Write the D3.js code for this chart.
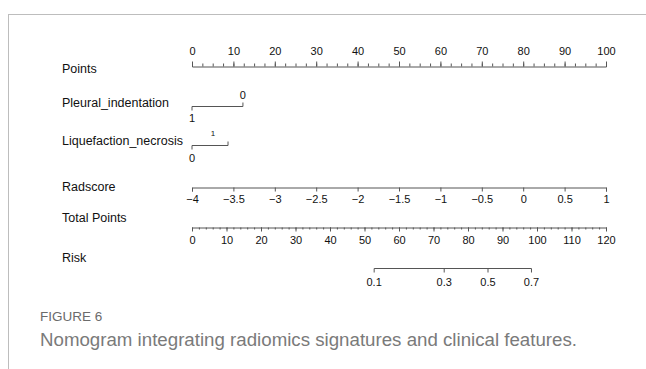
<!DOCTYPE html>
<html>
<head>
<meta charset="utf-8">
<script src="https://cdn.jsdelivr.net/npm/d3@7"></script>
<style>
  body { margin: 0; background: #fff; }
  svg text { font-family: "Liberation Sans", Arial, sans-serif; }
</style>
</head>
<body>
<div id="chart"></div>
<script>
// Nomogram data
const rowLabels = ['Points', 'Pleural_indentation', 'Liquefaction_necrosis', 'Radscore', 'Total Points', 'Risk'];

const pointsTicks = [0, 10, 20, 30, 40, 50, 60, 70, 80, 90, 100];

const pleuralLevels = ['1', '0'];
const pleuralPoints = [0, 12.3];

const liquefactionLevels = ['0', '1'];
const liquefactionPoints = [0, 8.7];

const radscoreTicks = [-4, -3.5, -3, -2.5, -2, -1.5, -1, -0.5, 0, 0.5, 1];

const totalTicks = [0, 10, 20, 30, 40, 50, 60, 70, 80, 90, 100, 110, 120];

const riskTicks = [0.1, 0.3, 0.5, 0.7];
const riskTotalPoints = [52.8, 73.1, 85.8, 98.4];

const W = 646, H = 369;
const svg = d3.select('#chart').append('svg')
  .attr('width', W).attr('height', H);

// frame lines
svg.append('line').attr('x1', 8).attr('x2', W).attr('y1', 14.5).attr('y2', 14.5)
  .attr('stroke', '#bdbdbd').attr('stroke-width', 1);
svg.append('line').attr('x1', 8.5).attr('x2', 8.5).attr('y1', 14).attr('y2', H)
  .attr('stroke', '#bdbdbd').attr('stroke-width', 1);

const x0 = 192, x1 = 606;
const xPts = d3.scaleLinear().domain([0, 100]).range([x0, x1]);
const xRad = d3.scaleLinear().domain([-4, 1]).range([x0, x1]);
const xTot = d3.scaleLinear().domain([0, 120]).range([x0, x1]);

const axisColor = '#555';
const textColor = '#111';
const fmt = d => String(d).replace('-', '\u2212');

// row labels
const labelY = [68, 102, 140, 186, 217, 257];
svg.selectAll('.rowlab').data(rowLabels).enter().append('text')
  .attr('class', 'rowlab')
  .attr('x', 62).attr('y', (d, i) => labelY[i] + 5)
  .attr('font-size', 12.5).attr('fill', textColor)
  .text(d => d);

function styleAxis(g) {
  g.select('.domain').attr('stroke', axisColor);
  g.selectAll('.tick line').attr('stroke', axisColor);
  g.selectAll('.tick text').attr('fill', textColor).attr('font-size', 11)
    .attr('font-family', '"Liberation Sans", Arial, sans-serif');
}

// Points axis (labels above)
const gP = svg.append('g').attr('transform', 'translate(0,66.5)');
gP.call(d3.axisTop(xPts).tickValues(d3.range(0, 100.01, 2.5)).tickSize(3).tickFormat(''));
gP.append('g').call(d3.axisTop(xPts).tickValues(pointsTicks).tickSize(5).tickPadding(7));
gP.selectAll('.domain').filter((d, i) => i > 0).remove();
styleAxis(gP);

// Pleural_indentation
const yPl = 106.5;
svg.append('line').attr('x1', xPts(d3.min(pleuralPoints))).attr('x2', xPts(d3.max(pleuralPoints)))
  .attr('y1', yPl).attr('y2', yPl).attr('stroke', axisColor);
pleuralLevels.forEach((lv, i) => {
  const px = xPts(pleuralPoints[i]);
  const up = pleuralPoints[i] > 0;
  svg.append('line').attr('x1', px).attr('x2', px).attr('y1', yPl).attr('y2', up ? yPl - 4 : yPl + 4)
    .attr('stroke', axisColor);
  svg.append('text').attr('x', px).attr('y', up ? yPl - 8 : yPl + 15)
    .attr('text-anchor', 'middle').attr('font-size', 11).attr('fill', textColor).text(lv);
});

// Liquefaction_necrosis
const yLq = 145.5;
svg.append('line').attr('x1', xPts(d3.min(liquefactionPoints))).attr('x2', xPts(d3.max(liquefactionPoints)))
  .attr('y1', yLq).attr('y2', yLq).attr('stroke', axisColor);
liquefactionLevels.forEach((lv, i) => {
  const px = xPts(liquefactionPoints[i]);
  const up = liquefactionPoints[i] > 0;
  svg.append('line').attr('x1', px).attr('x2', px).attr('y1', yLq).attr('y2', up ? yLq - 4 : yLq + 4)
    .attr('stroke', axisColor);
  svg.append('text').attr('x', up ? px - 15 : px).attr('y', up ? yLq - 10 : yLq + 16)
    .attr('text-anchor', 'middle').attr('font-size', up ? 8 : 11).attr('fill', textColor).text(lv);
});

// Radscore
const gR = svg.append('g').attr('transform', 'translate(0,187.5)');
gR.call(d3.axisBottom(xRad).tickValues(radscoreTicks).tickSize(4).tickPadding(4).tickFormat(fmt));
styleAxis(gR);

// Total Points
const gT = svg.append('g').attr('transform', 'translate(0,227.5)');
gT.call(d3.axisBottom(xTot).tickValues(d3.range(0, 120.01, 2)).tickSize(2).tickFormat(''));
gT.append('g').call(d3.axisBottom(xTot).tickValues(totalTicks).tickSize(4).tickPadding(5));
gT.selectAll('.domain').filter((d, i) => i > 0).remove();
styleAxis(gT);

// Risk
const gK = svg.append('g').attr('transform', 'translate(0,268.5)');
const riskPos = riskTotalPoints.map(p => xTot(p));
gK.append('line').attr('x1', d3.min(riskPos)).attr('x2', d3.max(riskPos))
  .attr('stroke', axisColor);
riskTicks.forEach((r, i) => {
  gK.append('line').attr('x1', riskPos[i]).attr('x2', riskPos[i]).attr('y1', 0).attr('y2', 4)
    .attr('stroke', axisColor);
  gK.append('text').attr('x', riskPos[i]).attr('y', 17).attr('text-anchor', 'middle')
    .attr('font-size', 11).attr('fill', textColor).text(r);
});

// caption
svg.append('text').attr('x', 40).attr('y', 321)
  .attr('font-family', '"Open Sans", sans-serif').attr('font-size', 13.5).attr('fill', '#6b6b6b')
  .text('FIGURE 6');
svg.append('text').attr('x', 40).attr('y', 346)
  .attr('font-family', '"Open Sans", sans-serif').attr('font-size', 18.7).attr('font-weight', 300)
  .attr('fill', '#7a7a7a')
  .text('Nomogram integrating radiomics signatures and clinical features.');
</script>
</body>
</html>
